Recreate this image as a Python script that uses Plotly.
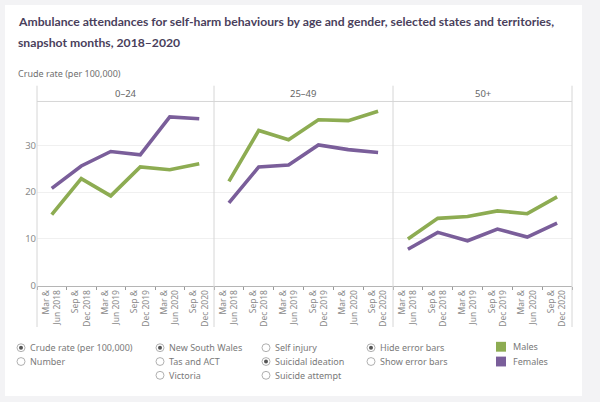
import plotly.graph_objects as go

W, H = 600, 402

categories = ["Mar &<br>Jun 2018", "Sep &<br>Dec 2018", "Mar &<br>Jun 2019",
              "Sep &<br>Dec 2019", "Mar &<br>Jun 2020", "Sep &<br>Dec 2020"]
age_groups = ["0–24", "25–49", "50+"]

males_0_24 = [15.2, 22.9, 19.2, 25.4, 24.8, 26.1]
females_0_24 = [20.8, 25.6, 28.7, 28.0, 36.1, 35.7]
males_25_49 = [22.3, 33.2, 31.2, 35.5, 35.3, 37.3]
females_25_49 = [17.7, 25.4, 25.8, 30.1, 29.1, 28.5]
males_50 = [10.0, 14.4, 14.8, 16.0, 15.4, 19.0]
females_50 = [7.8, 11.4, 9.6, 12.1, 10.4, 13.4]

males = [males_0_24, males_25_49, males_50]
females = [females_0_24, females_25_49, females_50]

y_ticks = [0, 10, 20, 30]

GREEN = "#8dac52"
PURPLE = "#7a5e9a"
GRAY_TXT = "#6b6b6b"
FONT = "Noto Sans"
TITLE_FONT = "Lato"

def px(x):
    return x / W

def py(y):
    return 1 - y / H

fig = go.Figure()

panel_edges = [37, 214, 393, 572]
top_y, axis_y = 103, 290

for i in range(3):
    xa = "x" if i == 0 else f"x{i+1}"
    ya = "y" if i == 0 else f"y{i+1}"
    fig.add_trace(go.Scatter(x=categories, y=males[i], mode="lines",
                             line=dict(color=GREEN, width=3.6), xaxis=xa, yaxis=ya,
                             showlegend=False, hoverinfo="skip"))
    fig.add_trace(go.Scatter(x=categories, y=females[i], mode="lines",
                             line=dict(color=PURPLE, width=3.6), xaxis=xa, yaxis=ya,
                             showlegend=False, hoverinfo="skip"))

layout = dict(
    width=W, height=H, margin=dict(l=0, r=0, t=0, b=0),
    paper_bgcolor="#f3f3f5", plot_bgcolor="rgba(0,0,0,0)",
    font=dict(family=FONT, color=GRAY_TXT),
)

for i in range(3):
    suffix = "" if i == 0 else str(i + 1)
    layout["xaxis" + suffix] = dict(
        domain=[px(panel_edges[i]), px(panel_edges[i + 1])],
        type="category", categoryorder="array", categoryarray=categories,
        range=[-0.5, 5.5], tickangle=-90, ticks="outside", tickson="boundaries",
        ticklen=3, tickcolor="#9a9a9a", tickfont=dict(size=8.5, color="#8a8a8a"),
        showline=True, linecolor="#b5b5b5", linewidth=1, showgrid=False,
        anchor="y" + suffix, fixedrange=True,
    )
    layout["yaxis" + suffix] = dict(
        domain=[py(axis_y), py(top_y)], range=[0, 39.4],
        tickvals=y_ticks, showticklabels=(i == 0),
        tickfont=dict(size=9.5, color="#8a8a8a"),
        showgrid=True, gridcolor="#f0f0f0", gridwidth=1, zeroline=False,
        showline=False, anchor="x" + suffix, fixedrange=True, ticks="",
    )

fig.update_layout(**layout)

shapes = []
# white card
shapes.append(dict(type="rect", xref="paper", yref="paper",
                   x0=px(5), x1=px(582), y0=0, y1=py(5),
                   fillcolor="white", line=dict(width=0), layer="below"))
# vertical separators
for xe in panel_edges:
    shapes.append(dict(type="line", xref="paper", yref="paper",
                       x0=px(xe), x1=px(xe), y0=py(332), y1=py(87),
                       line=dict(color="#d6d6d6", width=1)))
# header bottom line
shapes.append(dict(type="line", xref="paper", yref="paper",
                   x0=px(37), x1=px(572), y0=py(top_y), y1=py(top_y),
                   line=dict(color="#d6d6d6", width=1)))

annotations = []
title_font = dict(size=12.2, color="#4a3f5c", family=TITLE_FONT, weight=700)
annotations.append(dict(text="Ambulance attendances for self-harm behaviours by age and gender, selected states and territories,",
                        x=px(16), y=py(22), xref="paper", yref="paper", xanchor="left", yanchor="middle",
                        showarrow=False, font=title_font))
annotations.append(dict(text="snapshot months, 2018–2020",
                        x=px(16), y=py(43), xref="paper", yref="paper", xanchor="left", yanchor="middle",
                        showarrow=False, font=title_font))
annotations.append(dict(text="Crude rate (per 100,000)",
                        x=px(16), y=py(75), xref="paper", yref="paper", xanchor="left", yanchor="middle",
                        showarrow=False, font=dict(size=9, color="#6f6f6f", family=FONT)))
for i, g in enumerate(age_groups):
    annotations.append(dict(text=g, x=px((panel_edges[i] + panel_edges[i + 1]) / 2), y=py(95),
                            xref="paper", yref="paper", xanchor="center", yanchor="middle",
                            showarrow=False, font=dict(size=9.5, color="#666666", family=FONT)))

# radio controls
radio_groups = [
    (21, [("Crude rate (per 100,000)", True), ("Number", False)]),
    (160, [("New South Wales", True), ("Tas and ACT", False), ("Victoria", False)]),
    (266, [("Self injury", False), ("Suicidal ideation", True), ("Suicide attempt", False)]),
    (371, [("Hide error bars", True), ("Show error bars", False)]),
]
row_y = [353, 367, 381]
r = 4
for cx, items in radio_groups:
    for j, (label, sel) in enumerate(items):
        cy = row_y[j]
        shapes.append(dict(type="circle", xref="paper", yref="paper",
                           x0=px(cx - r), x1=px(cx + r), y0=py(cy + r), y1=py(cy - r),
                           line=dict(color="#b0b0b0", width=1), fillcolor="white"))
        if sel:
            shapes.append(dict(type="circle", xref="paper", yref="paper",
                               x0=px(cx - 2), x1=px(cx + 2), y0=py(cy + 2), y1=py(cy - 2),
                               line=dict(color="#555555", width=0), fillcolor="#555555"))
        annotations.append(dict(text=label, x=px(cx + 7), y=py(cy), xref="paper", yref="paper",
                                xanchor="left", yanchor="middle", showarrow=False,
                                font=dict(size=9, color="#7a7a7a", family=FONT)))

# gender legend
for (label, color, cy) in [("Males", GREEN, 352), ("Females", PURPLE, 367)]:
    shapes.append(dict(type="rect", xref="paper", yref="paper",
                       x0=px(496), x1=px(506), y0=py(cy + 5), y1=py(cy - 5),
                       fillcolor=color, line=dict(width=0)))
    annotations.append(dict(text=label, x=px(511), y=py(cy), xref="paper", yref="paper",
                            xanchor="left", yanchor="middle", showarrow=False,
                            font=dict(size=9, color="#7a7a7a", family=FONT)))

fig.update_layout(shapes=shapes, annotations=annotations)
fig.write_html("out.html")
